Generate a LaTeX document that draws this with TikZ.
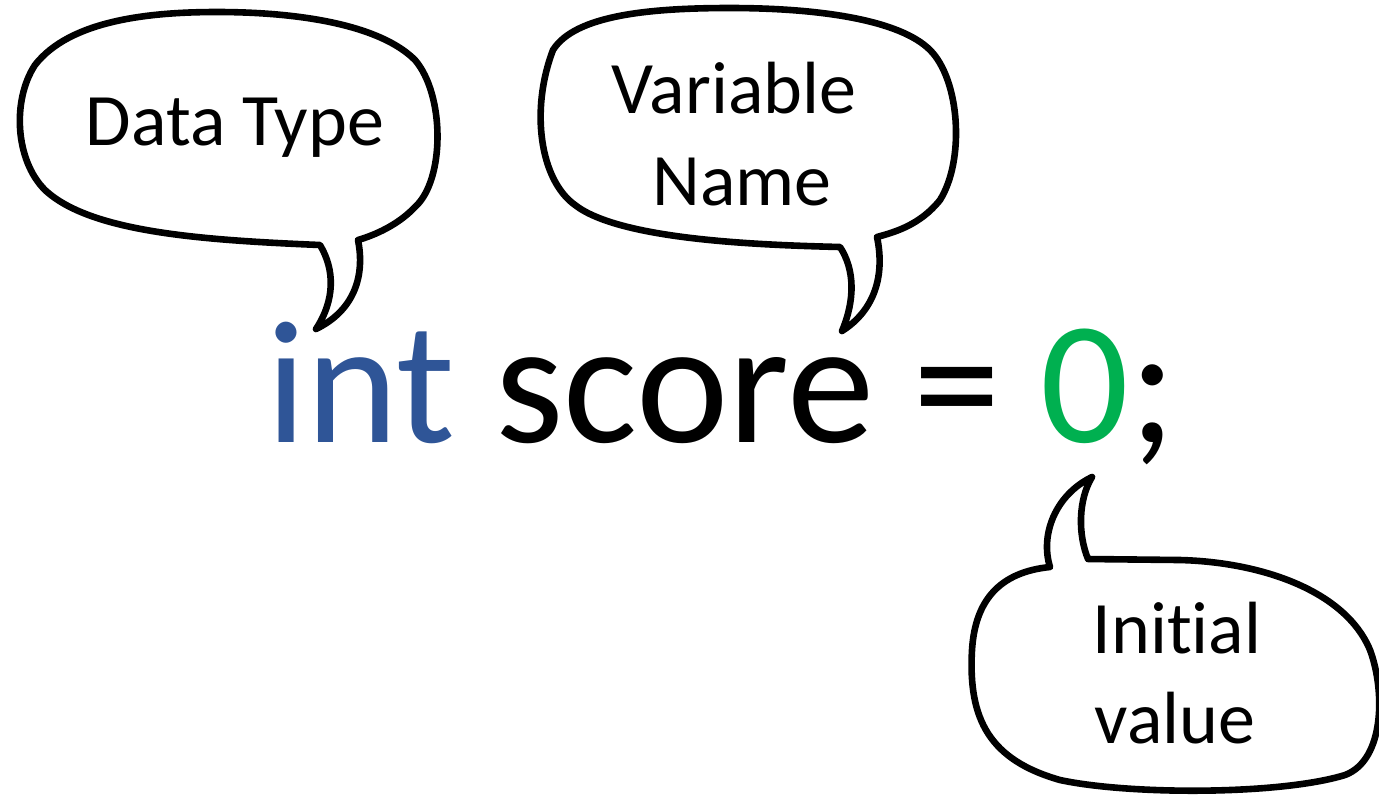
\documentclass[tikz,border=0pt]{standalone}
\usepackage{fontspec}
\setmainfont{Carlito}[Ligatures=NoCommon]
\definecolor{typeblue}{HTML}{2F5597}
\definecolor{valgreen}{HTML}{00B050}
\begin{document}
\begin{tikzpicture}[x=0.5pt,y=-0.5pt,
  bubble/.style={draw=black,line width=3.3pt,line join=round,fill=white},
  label/.style={inner sep=0pt,anchor=base,font=\fontsize{37}{44}\selectfont},
  code/.style={inner sep=0pt,anchor=base west,font=\fontsize{87.5}{100}\selectfont}]
\useasboundingbox (0,0) rectangle (1379,800);

% Data Type bubble
\draw[bubble] (320,245) .. controls (200,240) and (90,232) .. (45,190)
  .. controls (15,160) and (12,100) .. (35,65)
  .. controls (70,20) and (150,12) .. (217,12)
  .. controls (300,12) and (380,25) .. (415,60)
  .. controls (445,95) and (445,180) .. (415,207)
  .. controls (398,225) and (375,235) .. (358,240)
  .. controls (365,275) and (355,310) .. (316,329)
  .. controls (335,300) and (335,270) .. (320,245) -- cycle;

% Variable Name bubble
\draw[bubble] (840,247) .. controls (760,245) and (620,240) .. (575,205)
  .. controls (540,180) and (530,110) .. (553,50)
  .. controls (575,15) and (650,8) .. (730,8)
  .. controls (820,8) and (900,20) .. (930,50)
  .. controls (960,80) and (965,160) .. (940,200)
  .. controls (920,225) and (895,232) .. (877,237)
  .. controls (885,275) and (875,310) .. (842,331)
  .. controls (855,300) and (855,270) .. (840,247) -- cycle;

% Initial value bubble
\draw[bubble] (1050,567) .. controls (1000,572) and (975,600) .. (972,650)
  .. controls (968,720) and (990,760) .. (1060,780)
  .. controls (1130,795) and (1280,795) .. (1345,775)
  .. controls (1385,760) and (1385,690) .. (1370,650)
  .. controls (1345,590) and (1260,562) .. (1180,560)
  -- (1088,559)
  .. controls (1078,535) and (1078,500) .. (1092,477)
  .. controls (1055,495) and (1040,535) .. (1050,567) -- cycle;

% labels
\node[label] (dtype) at (235,145) {Data Type};
\node[label] (varname1) at (734,113) {Variable};
\node[label] (varname2) at (742,205) {Name};
\node[label] (init1) at (1177,653) {Initial};
\node[label] (init2) at (1175,743) {value};

% code line
\node[code] (codeline) at (266,442) {\textcolor{typeblue}{int} score = \textcolor{valgreen}{0};};
\end{tikzpicture}
\end{document}
